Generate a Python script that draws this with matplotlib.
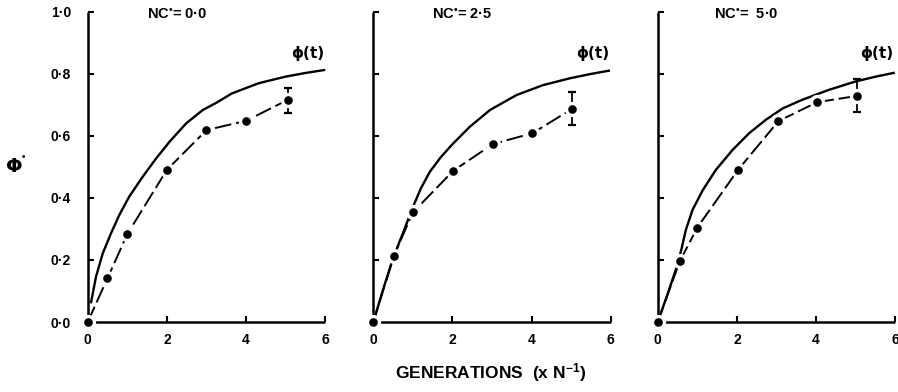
import matplotlib
matplotlib.use("Agg")
import matplotlib.pyplot as plt

plt.rcParams['font.family'] = ['Liberation Sans', 'DejaVu Sans']
plt.rcParams['font.weight'] = 'bold'
plt.rcParams['mathtext.fontset'] = 'custom'
plt.rcParams['mathtext.rm'] = 'Liberation Sans:bold'
plt.rcParams['mathtext.bf'] = 'Liberation Sans:bold'
plt.rcParams['mathtext.it'] = 'Liberation Sans:bold'
plt.rcParams['lines.scale_dashes'] = False

# ---- data ----
titles = ["NC$^{•}$= 0·0", "NC$^{•}$= 2·5", "NC$^{•}$=  5·0"]

obs_x1 = [0, 0.5, 1, 2, 3, 4, 5.05]
obs_y1 = [0.0, 0.141, 0.283, 0.49, 0.618, 0.648, 0.715]
obs_x2 = [0, 0.52, 1.0, 2.02, 3.02, 4.02, 5.03]
obs_y2 = [0.0, 0.213, 0.353, 0.487, 0.573, 0.608, 0.687]
obs_x3 = [0, 0.56, 1.0, 2.03, 3.05, 4.03, 5.03]
obs_y3 = [0.0, 0.196, 0.304, 0.49, 0.647, 0.708, 0.728]

err_lo = [0.674, 0.634, 0.675]
err_hi = [0.755, 0.742, 0.782]

curve_x1 = [0.08, 0.21, 0.38, 0.59, 0.80, 1.05, 1.39, 1.73, 2.07, 2.49, 2.91, 3.25,
            3.64, 4.32, 4.99, 5.5, 6.0]
curve_y1 = [0.06, 0.146, 0.221, 0.286, 0.345, 0.404, 0.468, 0.527, 0.581, 0.640, 0.683, 0.706,
            0.736, 0.769, 0.79, 0.802, 0.812]
curve_x2 = [0.0, 0.26, 0.52, 0.76, 1.0, 1.2, 1.43, 1.7, 1.98, 2.44, 2.95, 3.62, 4.29,
            4.97, 5.5, 5.98]
curve_y2 = [0.0, 0.11, 0.213, 0.29, 0.37, 0.43, 0.484, 0.53, 0.57, 0.629, 0.683, 0.731, 0.763,
            0.785, 0.799, 0.81]
curve_x3 = [0.0, 0.25, 0.5, 0.61, 0.71, 0.88, 1.14, 1.47, 1.89, 2.31, 2.73, 3.16, 3.64,
            4.31, 4.98, 5.5, 5.99]
curve_y3 = [0.0, 0.09, 0.185, 0.24, 0.296, 0.361, 0.425, 0.49, 0.554, 0.608, 0.651, 0.688, 0.715,
            0.747, 0.774, 0.79, 0.803]

ytick_vals = [0.0, 0.2, 0.4, 0.6, 0.8, 1.0]
ytick_labels = ["0·0", "0·2", "0·4", "0·6", "0·8", "1·0"]
xtick_vals = [0, 2, 4, 6]
xtick_labels = ["0", "2", "4", "6"]

panels = [
    (obs_x1, obs_y1, curve_x1, curve_y1),
    (obs_x2, obs_y2, curve_x2, curve_y2),
    (obs_x3, obs_y3, curve_x3, curve_y3),
]
lefts = [87.7, 373.3, 657.7]
W, H = 898, 392

fig = plt.figure(figsize=(W / 100, H / 100), dpi=100)
for i, (ox, oy, cx, cy) in enumerate(panels):
    ax = fig.add_axes([lefts[i] / W, 70 / H, 237.5 / W, 310.5 / H])
    ax.set_xlim(0, 6)
    ax.set_ylim(0, 1.0)
    for s in ['top', 'right']:
        ax.spines[s].set_visible(False)
    for s in ['left', 'bottom']:
        ax.spines[s].set_linewidth(1.8)
        ax.spines[s].set_capstyle('butt')
    ax.set_xticks(xtick_vals)
    ax.set_xticklabels(xtick_labels, fontsize=10, fontweight='bold')
    ax.set_yticks(ytick_vals)
    if i == 0:
        ax.set_yticklabels(ytick_labels, fontsize=10, fontweight='bold')
    else:
        ax.set_yticklabels([])
    ax.tick_params(axis='both', direction='in', length=4, width=1.5, pad=8)
    ax.tick_params(axis='y', pad=12)

    ax.plot(cx, cy, color='black', lw=1.7, solid_capstyle='butt', solid_joinstyle='round',
            zorder=2, clip_on=False)
    ax.plot(ox, oy, color='black', lw=1.4, dashes=(12, 3.5), zorder=2, clip_on=False)
    ax.errorbar([ox[-1]], [oy[-1]], yerr=[[oy[-1] - err_lo[i]], [err_hi[i] - oy[-1]]],
                fmt='none', ecolor='black', elinewidth=1.3, capsize=3, capthick=1.6, zorder=2)
    ax.plot(ox, oy, 'o', color='white', ms=11, mew=0, zorder=3, clip_on=False)
    ax.plot(ox, oy, 'o', color='black', ms=6.2, mew=0, zorder=4, clip_on=False)

    ax.text(cx[-1] - 0.45, 0.865, "ϕ(t)", family='DejaVu Sans', fontsize=11,
            fontweight='bold', ha='center', va='center')
    ax.text(2.25, 0.99, titles[i], fontsize=10.5, fontweight='bold', ha='center', va='center')

fig.text(14 / W, 1 - 166 / H, "Φ", family='DejaVu Sans', fontsize=14,
         fontweight='bold', ha='center', va='center')
fig.text(23 / W, 1 - 157 / H, "•", fontsize=7, fontweight='bold', ha='center', va='center')
fig.text(491 / W, 1 - 373 / H, "GENERATIONS  (x N$^{-1}$)", fontsize=12.5,
         fontweight='bold', ha='center', va='center')

fig.savefig("out.png", dpi=100)
